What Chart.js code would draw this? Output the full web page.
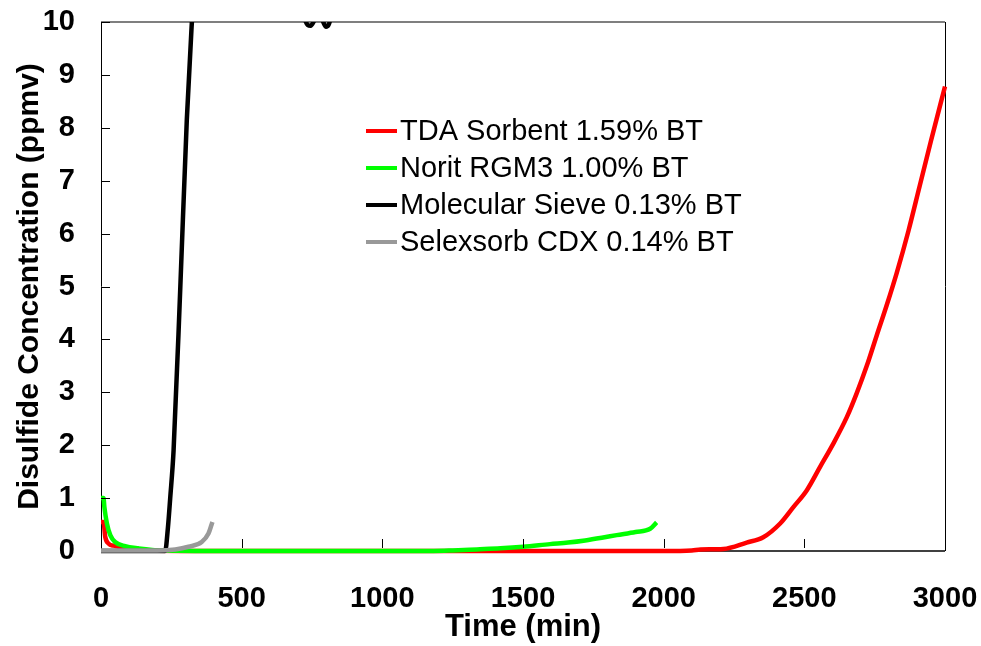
<!DOCTYPE html>
<html>
<head>
<meta charset="utf-8">
<script src="https://cdn.jsdelivr.net/npm/chart.js@4"></script>
<style>
  html, body { margin: 0; padding: 0; background: #fff; }
  #wrap { width: 981px; height: 646px; position: relative; }
</style>
</head>
<body>
<div id="wrap"><canvas id="bt"></canvas></div>
<script>
// time (min) and disulfide concentration (ppmv)
const tdaTime = [0, 9, 15, 27, 45, 62, 92, 130, 500, 1000, 1500, 2000, 2100, 2131, 2212, 2295, 2354, 2414, 2461, 2509, 2556, 2603, 2651, 2686, 2722, 2757, 2793, 2828, 2870, 2910, 2950, 3000];
const tdaConc = [0.55, 0.55, 0.27, 0.14, 0.1, 0.08, 0.03, 0.01, 0, 0, 0, 0, 0.01, 0.03, 0.04, 0.16, 0.26, 0.52, 0.83, 1.15, 1.59, 2.03, 2.53, 2.98, 3.5, 4.07, 4.65, 5.25, 6.05, 6.9, 7.75, 8.78];

const noritTime = [0, 9, 12, 21, 33, 50, 86, 133, 216, 500, 1000, 1182, 1250, 1336, 1420, 1501, 1596, 1660, 1721, 1780, 1833, 1900, 1952, 1975];
const noritConc = [1.0, 1.0, 0.83, 0.52, 0.30, 0.17, 0.09, 0.05, 0.01, 0, 0, 0, 0.01, 0.03, 0.05, 0.08, 0.13, 0.16, 0.2, 0.25, 0.30, 0.36, 0.42, 0.54];

const sieveTime = [0, 100, 200, 228, 238, 246, 258, 282, 305, 323, 340, 400, 600, 700, 725, 745, 768, 785, 800, 818, 840, 900];
const sieveConc = [0, 0, 0, 0, 0.45, 1.0, 1.9, 5.0, 8.15, 10.0, 11.5, 13, 13, 11.5, 10.05, 9.93, 10.1, 10.05, 9.91, 10.15, 11.5, 13];

const selexTime = [0, 100, 200, 264, 311, 358, 382, 396];
const selexConc = [0.01, 0.01, 0.01, 0.03, 0.08, 0.17, 0.33, 0.55];

const seriesLabels = ['TDA Sorbent 1.59% BT', 'Norit RGM3 1.00% BT', 'Molecular Sieve 0.13% BT', 'Selexsorb CDX 0.14% BT'];
const seriesColors = ['#ff0000', '#00ff00', '#000000', '#999999'];

const xTicks = [0, 500, 1000, 1500, 2000, 2500, 3000];
const yTicks = [0, 1, 2, 3, 4, 5, 6, 7, 8, 9, 10];

function pts(t, c) {
    return t.map((x, i) => ({ x: x, y: c[i] }));
}

const PLOT_LEFT = 101, PLOT_RIGHT = 945, PLOT_TOP = 22, PLOT_BOTTOM = 551;
const PAD_LEFT = 12;
const FONT = '"Liberation Sans", Arial, sans-serif';

function noOverflow(s) {
    s.paddingTop = 0;
    s.paddingBottom = 0;
    s.paddingLeft = 0;
    s.paddingRight = 0;
}

// plot frame drawn under the lines, inner tick marks on top
const frame = {
    id: 'frame',
    beforeDatasetsDraw(chart) {
        const { ctx, chartArea: a } = chart;
        ctx.save();
        ctx.strokeStyle = '#7f7f7f';
        ctx.lineWidth = 2;
        ctx.beginPath();
        ctx.moveTo(a.left, a.top);
        ctx.lineTo(a.right, a.top);
        ctx.stroke();
        ctx.strokeStyle = '#000';
        ctx.lineWidth = 1;
        ctx.beginPath();
        ctx.moveTo(Math.round(a.right) + 0.5, a.top);
        ctx.lineTo(Math.round(a.right) + 0.5, a.bottom);
        ctx.moveTo(Math.round(a.left) + 0.5, a.top);
        ctx.lineTo(Math.round(a.left) + 0.5, a.bottom);
        ctx.stroke();
        ctx.strokeStyle = '#404040';
        ctx.lineWidth = 2;
        ctx.beginPath();
        ctx.moveTo(a.left, a.bottom);
        ctx.lineTo(a.right, a.bottom);
        ctx.stroke();
        ctx.restore();
    },
    afterDatasetsDraw(chart) {
        const { ctx, chartArea: a, scales } = chart;
        ctx.save();
        ctx.strokeStyle = '#000';
        ctx.lineWidth = 1;
        ctx.beginPath();
        yTicks.slice(1).forEach(v => {
            const y = Math.round(scales.y.getPixelForValue(v)) + 0.5;
            ctx.moveTo(a.left, y);
            ctx.lineTo(a.left + 9, y);
        });
        xTicks.slice(1).forEach(v => {
            const x = Math.round(scales.x.getPixelForValue(v)) + 0.5;
            ctx.moveTo(x, a.bottom - 3);
            ctx.lineTo(x, a.bottom - 12);
        });
        ctx.stroke();
        ctx.restore();
    }
};

// legend sits inside the plot
const insideLegend = {
    id: 'insideLegend',
    afterDraw(chart) {
        const ctx = chart.ctx;
        ctx.save();
        ctx.font = '29px ' + FONT;
        ctx.textBaseline = 'middle';
        ctx.fillStyle = '#000';
        chart.data.datasets.forEach((ds, i) => {
            const y = 131 + i * 37;
            ctx.strokeStyle = ds.borderColor;
            ctx.lineWidth = 4;
            ctx.beginPath();
            ctx.moveTo(366, y);
            ctx.lineTo(397, y);
            ctx.stroke();
            ctx.fillText(ds.label, 400, y + 1);
        });
        ctx.restore();
    }
};

const ctx = document.getElementById('bt').getContext('2d');
new Chart(ctx, {
    type: 'line',
    data: {
        datasets: [
            { label: seriesLabels[0], data: pts(tdaTime, tdaConc), borderColor: seriesColors[0], order: 3 },
            { label: seriesLabels[1], data: pts(noritTime, noritConc), borderColor: seriesColors[1], order: 2 },
            { label: seriesLabels[2], data: pts(sieveTime, sieveConc), borderColor: seriesColors[2], order: 1 },
            { label: seriesLabels[3], data: pts(selexTime, selexConc), borderColor: seriesColors[3], order: 0 }
        ].map(d => Object.assign(d, {
            borderWidth: 4.5,
            pointRadius: 0,
            fill: false,
            cubicInterpolationMode: 'monotone',
            clip: { left: 3, top: 0, right: 3, bottom: 4 }
        }))
    },
    options: {
        responsive: true,
        maintainAspectRatio: false,
        animation: false,
        layout: { padding: { top: PLOT_TOP, right: 981 - PLOT_RIGHT, left: PAD_LEFT, bottom: 0 } },
        plugins: {
            legend: { display: false },
            tooltip: { enabled: false }
        },
        scales: {
            x: {
                type: 'linear',
                min: 0,
                max: 3000,
                afterBuildTicks: s => { s.ticks = xTicks.map(v => ({ value: v })); },
                afterFit: s => { s.height = 646 - PLOT_BOTTOM; noOverflow(s); },
                grid: { display: false, drawTicks: false },
                border: { display: false },
                ticks: {
                    padding: 31,
                    maxRotation: 0,
                    color: '#000',
                    callback: v => String(v),
                    font: { family: FONT, size: 29, weight: 'bold' }
                },
                title: {
                    display: true,
                    text: 'Time (min)',
                    color: '#000',
                    padding: { top: 0, bottom: 0 },
                    font: { family: FONT, size: 31, weight: 'bold' }
                }
            },
            y: {
                min: 0,
                max: 10,
                afterBuildTicks: s => { s.ticks = yTicks.map(v => ({ value: v })); },
                afterFit: s => { s.width = PLOT_LEFT - PAD_LEFT; noOverflow(s); },
                grid: { display: false, drawTicks: false },
                border: { display: false },
                ticks: {
                    padding: 26,
                    color: '#000',
                    callback: v => String(v),
                    font: { family: FONT, size: 29, weight: 'bold' }
                },
                title: {
                    display: true,
                    text: 'Disulfide Concentration (ppmv)',
                    color: '#000',
                    padding: { top: 0, bottom: 0 },
                    font: { family: FONT, size: 30, weight: 'bold' }
                }
            }
        }
    },
    plugins: [frame, insideLegend]
});
</script>
</body>
</html>
